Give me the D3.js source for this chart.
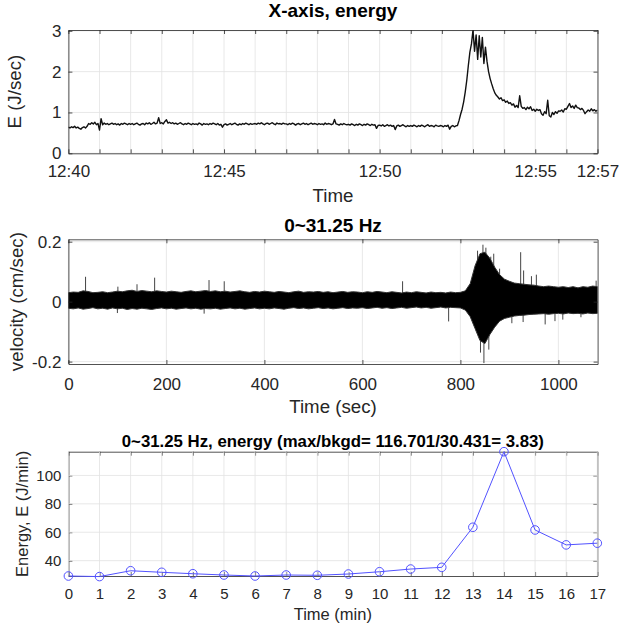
<!DOCTYPE html>
<html>
<head>
<meta charset="utf-8">
<script src="https://cdn.jsdelivr.net/npm/d3@7"></script>
<style>
    body { margin: 0; background: #fff; }
    svg { font-family: "Liberation Sans", Arial, sans-serif; }
    .grid line { stroke: #e2e2e2; stroke-width: 0.8; }
    .axis { color: #262626; }
    .axis path, .axis line { stroke-width: 0.8; }
    .label, .title { fill: #262626; }
    .title { font-weight: bold; fill: #000; }
</style>
</head>
<body>
<svg id="chart"></svg>
<script>
// ---------- panel 1 : X-axis energy (J/sec), one sample every 3 s from 12:40 ----------
const energyStep = 3;
const energyValues = [
    0.64,0.62,0.65,0.63,0.66,0.62,0.64,0.61,0.59,0.63,0.65,0.62,0.66,0.73,0.71,0.75,0.72,0.76,0.70,0.73,
    0.57,0.85,0.70,0.74,0.71,0.73,0.70,0.72,0.74,0.71,0.73,0.70,0.72,0.69,0.73,0.71,0.74,0.72,0.70,0.73,
    0.71,0.73,0.70,0.72,0.74,0.71,0.69,0.72,0.73,0.70,0.74,0.72,0.75,0.71,0.73,0.76,0.72,0.74,0.87,0.73,
    0.75,0.72,0.78,0.82,0.74,0.76,0.73,0.75,0.72,0.74,0.71,0.73,0.75,0.72,0.70,0.73,0.71,0.74,0.72,0.70,
    0.73,0.71,0.72,0.70,0.74,0.72,0.69,0.73,0.71,0.72,0.70,0.73,0.71,0.74,0.72,0.70,0.73,0.69,0.71,0.64,
    0.70,0.72,0.69,0.71,0.73,0.70,0.72,0.74,0.71,0.69,0.72,0.70,0.73,0.71,0.74,0.72,0.70,0.73,0.71,0.72,
    0.73,0.71,0.74,0.72,0.75,0.72,0.70,0.73,0.74,0.71,0.73,0.75,0.72,0.70,0.74,0.72,0.73,0.71,0.74,0.72,
    0.72,0.70,0.73,0.71,0.74,0.72,0.69,0.72,0.73,0.70,0.72,0.74,0.71,0.73,0.70,0.72,0.74,0.71,0.73,0.72,
    0.70,0.73,0.71,0.72,0.70,0.74,0.71,0.73,0.72,0.70,0.72,0.83,0.72,0.71,0.69,0.72,0.70,0.73,0.71,0.70,
    0.71,0.69,0.72,0.70,0.68,0.71,0.69,0.72,0.70,0.68,0.71,0.69,0.72,0.70,0.68,0.71,0.69,0.70,0.61,0.68,
    0.69,0.67,0.70,0.66,0.68,0.70,0.67,0.69,0.66,0.68,0.58,0.67,0.69,0.66,0.68,0.70,0.67,0.65,0.68,0.66,
    0.68,0.66,0.69,0.67,0.65,0.68,0.66,0.69,0.67,0.65,0.68,0.70,0.66,0.68,0.67,0.65,0.69,0.67,0.66,0.68,
    0.67,0.65,0.68,0.66,0.69,0.59,0.66,0.68,0.65,0.67,0.68,0.80,0.95,1.08,1.26,1.50,1.79,2.15,2.48,2.68,
    3.02,2.50,2.90,2.30,2.88,2.36,2.84,2.20,2.60,2.25,2.00,1.83,1.70,1.58,1.48,1.42,1.38,1.33,1.36,1.29,
    1.31,1.25,1.28,1.22,1.24,1.18,1.21,1.13,1.17,1.12,1.41,1.15,1.10,1.12,1.07,1.13,1.09,1.14,1.05,1.08,
    1.03,1.08,1.05,1.07,0.97,0.93,1.02,0.97,1.30,0.92,0.89,1.00,0.95,1.02,0.98,1.04,1.03,1.06,1.01,1.09,
    1.08,1.15,1.22,1.12,1.16,1.10,1.18,1.12,1.11,1.07,1.10,1.05,0.97,1.02,1.06,1.03,1.09,1.04,1.07,1.03,
    1.06
];
const energyTickSec = [0,60,120,180,240,300,360,420,480,540,600,660,720,780,840,900,960,1020];
const energyLabelSec = [0, 300, 600, 900, 1020];
const energyLabelText = ["12:40", "12:45", "12:50", "12:55", "12:57"];
const energyTicksY = [0, 1, 2, 3];

// ---------- panel 2 : velocity 0~31.25 Hz, envelope per 10 s bin + isolated spikes ----------
const velBinStep = 10;
const velUpper = [
    0.030,0.032,0.031,0.036,0.034,0.030,0.031,0.033,0.030,0.032,
    0.035,0.033,0.036,0.038,0.034,0.037,0.035,0.033,0.036,0.034,
    0.032,0.035,0.033,0.031,0.034,0.036,0.033,0.035,0.037,0.034,
    0.036,0.033,0.035,0.032,0.034,0.036,0.033,0.031,0.034,0.032,
    0.035,0.033,0.031,0.034,0.032,0.030,0.033,0.035,0.031,0.033,
    0.032,0.034,0.031,0.033,0.030,0.032,0.034,0.031,0.033,0.032,
    0.030,0.033,0.031,0.034,0.032,0.030,0.033,0.031,0.029,0.032,
    0.030,0.033,0.031,0.029,0.032,0.030,0.031,0.029,0.032,0.030,
    0.031,0.036,0.060,0.120,0.160,0.165,0.145,0.115,0.090,0.075,
    0.068,0.062,0.060,0.058,0.056,0.055,0.052,0.050,0.052,0.050,
    0.048,0.050,0.047,0.050,0.046,0.050,0.048,0.052,0.050
];
const velLower = [
    -0.022,-0.024,-0.021,-0.025,-0.023,-0.020,-0.024,-0.022,-0.025,-0.021,
    -0.024,-0.022,-0.026,-0.023,-0.025,-0.022,-0.024,-0.026,-0.023,-0.021,
    -0.024,-0.022,-0.025,-0.023,-0.021,-0.024,-0.022,-0.025,-0.023,-0.024,
    -0.022,-0.025,-0.023,-0.021,-0.024,-0.022,-0.025,-0.023,-0.021,-0.024,
    -0.022,-0.024,-0.021,-0.023,-0.025,-0.022,-0.020,-0.023,-0.021,-0.024,
    -0.022,-0.020,-0.023,-0.021,-0.024,-0.022,-0.020,-0.023,-0.021,-0.022,
    -0.020,-0.023,-0.021,-0.019,-0.022,-0.020,-0.023,-0.021,-0.019,-0.022,
    -0.020,-0.018,-0.021,-0.019,-0.022,-0.020,-0.018,-0.021,-0.019,-0.020,
    -0.021,-0.028,-0.050,-0.090,-0.130,-0.140,-0.110,-0.085,-0.065,-0.056,
    -0.052,-0.048,-0.046,-0.045,-0.043,-0.042,-0.041,-0.040,-0.042,-0.040,
    -0.039,-0.041,-0.038,-0.040,-0.039,-0.041,-0.038,-0.040,-0.039
];
const spikeSec = [35, 100, 101, 140, 176, 277, 287, 318, 682, 776, 835, 841, 846, 848, 852, 858, 862, 868, 880, 905, 923, 928, 929, 945, 955, 973, 993, 1009, 1046, 1077];
const spikeVel = [0.083, -0.038, 0.050, 0.058, 0.080, -0.040, 0.072, 0.068, 0.068, -0.066, 0.170, -0.170, 0.190, -0.205, 0.180, -0.160, 0.150, 0.160, 0.110, -0.072, 0.165, -0.068, 0.104, 0.085, 0.090, -0.076, -0.065, -0.060, -0.052, 0.070];
const velTicksX = [0, 200, 400, 600, 800, 1000];
const velTicksY = [-0.2, 0, 0.2];

// ---------- panel 3 : energy per minute (J/min) ----------
const minutes = [0,1,2,3,4,5,6,7,8,9,10,11,12,13,14,15,16,17];
const minuteEnergy = [29.2, 28.8, 32.9, 31.8, 30.8, 29.9, 29.2, 29.9, 29.7, 30.6, 32.2, 34.1, 35.3, 63.5, 116.7, 61.6, 51.1, 52.3];
const minuteTicksY = [40, 60, 80, 100];

const FONT = '"Liberation Sans", Arial, sans-serif';
const svg = d3.select("#chart").attr("width", 623).attr("height", 625);

function makePanel(cfg) {
    const g = svg.append("g");
    const x = d3.scaleLinear().domain(cfg.xDomain).range([cfg.left, cfg.right]);
    const y = d3.scaleLinear().domain(cfg.yDomain).range([cfg.bottom, cfg.top]);

    g.append("clipPath").attr("id", "clip-" + cfg.name)
        .append("rect")
        .attr("x", cfg.left).attr("y", cfg.top)
        .attr("width", cfg.right - cfg.left).attr("height", cfg.bottom - cfg.top);

    // grid
    const grid = g.append("g").attr("class", "grid");
    grid.selectAll("line.gx").data(cfg.gridX).join("line")
        .attr("class", "gx")
        .attr("x1", d => x(d)).attr("x2", d => x(d))
        .attr("y1", cfg.top).attr("y2", cfg.bottom);
    grid.selectAll("line.gy").data(cfg.gridY).join("line")
        .attr("class", "gy")
        .attr("y1", d => y(d)).attr("y2", d => y(d))
        .attr("x1", cfg.left).attr("x2", cfg.right);

    const plot = g.append("g").attr("clip-path", `url(#clip-${cfg.name})`);
    const axes = g.append("g");
    const tk = 4;

    axes.append("g").attr("class", "axis")
        .attr("transform", `translate(0,${cfg.bottom})`)
        .call(d3.axisBottom(x).tickValues(cfg.ticksX).tickFormat(cfg.fmtX)
            .tickSize(-tk).tickSizeOuter(0).tickPadding(cfg.padX))
        .attr("font-family", FONT).attr("font-size", cfg.tickFont);
    axes.append("g").attr("class", "axis")
        .attr("transform", `translate(0,${cfg.top})`)
        .call(d3.axisTop(x).tickValues(cfg.ticksX).tickFormat("")
            .tickSize(-tk).tickSizeOuter(0));
    axes.append("g").attr("class", "axis")
        .attr("transform", `translate(${cfg.left},0)`)
        .call(d3.axisLeft(y).tickValues(cfg.ticksY).tickFormat(cfg.fmtY)
            .tickSize(-tk).tickSizeOuter(0).tickPadding(7))
        .attr("font-family", FONT).attr("font-size", cfg.tickFont);
    axes.append("g").attr("class", "axis")
        .attr("transform", `translate(${cfg.right},0)`)
        .call(d3.axisRight(y).tickValues(cfg.ticksY).tickFormat("")
            .tickSize(-tk).tickSizeOuter(0));

    const cx = (cfg.left + cfg.right) / 2;
    svg.append("text").attr("class", "title")
        .attr("x", cx).attr("y", cfg.titleY)
        .attr("text-anchor", "middle").attr("font-size", cfg.titleFont)
        .text(cfg.title);
    svg.append("text").attr("class", "label")
        .attr("x", cx).attr("y", cfg.xLabelY)
        .attr("text-anchor", "middle").attr("font-size", cfg.labelFont)
        .text(cfg.xLabel);
    svg.append("text").attr("class", "label")
        .attr("transform", `translate(${cfg.yLabelX},${(cfg.top + cfg.bottom) / 2}) rotate(-90)`)
        .attr("text-anchor", "middle").attr("font-size", cfg.labelFont)
        .text(cfg.yLabel);

    return { x, y, plot, axes };
}

// ---------- panel 1 ----------
const p1 = makePanel({
    name: "energy", left: 68.4, right: 597.5, top: 30, bottom: 153.3,
    xDomain: [0, 1020], yDomain: [0, 3.02],
    ticksX: energyTickSec, fmtX: d => { const i = energyLabelSec.indexOf(d); return i < 0 ? "" : energyLabelText[i]; },
    ticksY: energyTicksY, fmtY: d => d,
    gridX: energyTickSec, gridY: energyTicksY,
    padX: 12, tickFont: 17, labelFont: 18.7, titleFont: 19,
    title: "X-axis, energy", titleY: 17,
    xLabel: "Time", xLabelY: 202,
    yLabel: "E (J/sec)", yLabelX: 21
});
p1.plot.append("path")
    .datum(energyValues)
    .attr("d", d3.line().x((d, i) => p1.x(i * energyStep)).y(d => p1.y(d)))
    .attr("fill", "none").attr("stroke", "#111").attr("stroke-width", 1.4)
    .attr("stroke-linejoin", "round");

// ---------- panel 2 ----------
const p2 = makePanel({
    name: "vel", left: 68.4, right: 597.6, top: 239.3, bottom: 364,
    xDomain: [0, 1080], yDomain: [-0.208, 0.208],
    ticksX: velTicksX, fmtX: d => d,
    ticksY: velTicksY, fmtY: d => d === 0 ? "0" : String(d),
    gridX: velTicksX, gridY: velTicksY,
    padX: 14, tickFont: 17, labelFont: 18.7, titleFont: 19,
    title: "0~31.25 Hz", titleY: 232,
    xLabel: "Time (sec)", xLabelY: 413,
    yLabel: "velocity (cm/sec)", yLabelX: 23
});
p2.plot.selectAll("line.spike").data(spikeSec).join("line")
    .attr("class", "spike")
    .attr("x1", d => p2.x(d)).attr("x2", d => p2.x(d))
    .attr("y1", p2.y(0)).attr("y2", (d, i) => p2.y(spikeVel[i]))
    .attr("stroke", "#444").attr("stroke-width", 1);
p2.plot.append("path")
    .datum(velUpper)
    .attr("d", d3.area()
        .x((d, i) => p2.x(i * velBinStep))
        .y0((d, i) => p2.y(velLower[i]))
        .y1(d => p2.y(d)))
    .attr("fill", "#000").attr("stroke", "#333").attr("stroke-width", 1);

// ---------- panel 3 ----------
const p3 = makePanel({
    name: "minute", left: 68.4, right: 597.3, top: 451.7, bottom: 576,
    xDomain: [0, 17], yDomain: [29.2, 116.7],
    ticksX: minutes, fmtX: d => d,
    ticksY: minuteTicksY, fmtY: d => d,
    gridX: minutes, gridY: minuteTicksY,
    padX: 12, tickFont: 15, labelFont: 16.5, titleFont: 16.8,
    title: "0~31.25 Hz, energy (max/bkgd= 116.701/30.431= 3.83)", titleY: 447,
    xLabel: "Time (min)", xLabelY: 620,
    yLabel: "Energy, E (J/min)", yLabelX: 28
});
const blue = "#5252ff";
p3.axes.lower();
p3.plot.raise();
p3.plot.attr("clip-path", null);
p3.plot.append("path")
    .datum(minuteEnergy)
    .attr("d", d3.line().x((d, i) => p3.x(minutes[i])).y(d => p3.y(d)))
    .attr("fill", "none").attr("stroke", blue).attr("stroke-width", 1);
p3.plot.selectAll("circle").data(minuteEnergy).join("circle")
    .attr("cx", (d, i) => p3.x(minutes[i])).attr("cy", d => p3.y(d))
    .attr("r", 4.3)
    .attr("fill", "none").attr("stroke", blue).attr("stroke-width", 1);
</script>
</body>
</html>
